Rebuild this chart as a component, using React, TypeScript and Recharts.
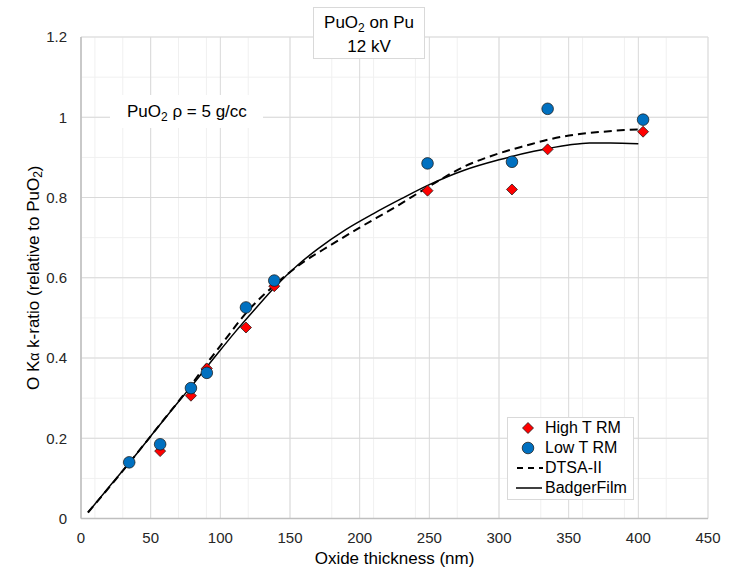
import {
  ComposedChart,
  Line,
  Scatter,
  XAxis,
  YAxis,
  CartesianGrid,
  Legend,
} from 'recharts';

const FONT = '"Liberation Sans", Arial, sans-serif';

// measured points (thickness nm, k-ratio)
const highTX = [56.8, 78.9, 90.3, 118.4, 138.7, 248.7, 309.3, 334.9, 403.4];
const highTY = [0.168, 0.306, 0.374, 0.476, 0.579, 0.817, 0.82, 0.92, 0.964];

const lowTX = [34.6, 56.8, 78.9, 90.3, 118.4, 138.7, 248.7, 309.3, 334.9, 403.4];
const lowTY = [0.14, 0.185, 0.325, 0.363, 0.526, 0.593, 0.885, 0.889, 1.021, 0.994];

// model curves
const dtsaX = [5, 35, 57, 80, 90, 100, 120, 140, 160, 180, 200, 225, 250, 275, 300, 320, 335, 355, 375, 390, 403];
const dtsaY = [0.015, 0.14, 0.236, 0.337, 0.385, 0.43, 0.518, 0.585, 0.64, 0.683, 0.725, 0.775, 0.828, 0.877, 0.91, 0.93, 0.944, 0.957, 0.964, 0.968, 0.97];

const badgerX = [5, 20, 35, 50, 65, 80, 95, 110, 125, 140, 155, 170, 190, 210, 230, 250, 275, 300, 325, 350, 365, 380, 400];
const badgerY = [0.015, 0.078, 0.14, 0.205, 0.27, 0.333, 0.398, 0.462, 0.522, 0.58, 0.63, 0.672, 0.72, 0.76, 0.797, 0.832, 0.868, 0.894, 0.915, 0.931, 0.936, 0.936, 0.934];

const xTicks = [0, 50, 100, 150, 200, 250, 300, 350, 400, 450];
const yTicks = [0, 0.2, 0.4, 0.6, 0.8, 1, 1.2];
const xMinorTicks = Array.from({ length: 46 }, (_, i) => i * 10);
const yMinorTicks = Array.from({ length: 25 }, (_, i) => Math.round(i * 5) / 100);

const SERIES = ['High T RM', 'Low T RM', 'DTSA-II', 'BadgerFilm'];

const zip = (xs: number[], ys: number[]) => xs.map((x, i) => ({ x, y: ys[i] }));

const highData = zip(highTX, highTY);
const lowData = zip(lowTX, lowTY);
const dtsaData = zip(dtsaX, dtsaY);
const badgerData = zip(badgerX, badgerY);

const RED = '#ff0000';
const BLUE = '#0070c0';
const MARKER_STROKE = '#1a1a1a';

function Diamond(props: any) {
  const { cx, cy } = props;
  if (cx == null || cy == null) return null;
  const r = 5.5;
  return (
    <polygon
      points={`${cx},${cy - r} ${cx + r},${cy} ${cx},${cy + r} ${cx - r},${cy}`}
      fill={RED}
      stroke={MARKER_STROKE}
      strokeWidth={0.75}
    />
  );
}

function Dot(props: any) {
  const { cx, cy } = props;
  if (cx == null || cy == null) return null;
  return <circle cx={cx} cy={cy} r={5.8} fill={BLUE} stroke={MARKER_STROKE} strokeWidth={0.75} />;
}

function YLabel(props: any) {
  const vb = props.viewBox || { x: 0, y: 37, width: 81, height: 481.5 };
  const cx = 33.5;
  const cy = vb.y + vb.height / 2;
  return (
    <text
      x={cx}
      y={cy}
      transform={`rotate(-90, ${cx}, ${cy})`}
      textAnchor="middle"
      dominantBaseline="central"
      fontSize={17}
      fontFamily={FONT}
      fill="#000"
    >
      O K<tspan fontSize={14}>α</tspan> k-ratio (relative to PuO
      <tspan dy={4} fontSize={12}>2</tspan>
      <tspan dy={-4}>)</tspan>
    </text>
  );
}

function XLabel(props: any) {
  const vb = props.viewBox || { x: 81, y: 518.5, width: 627, height: 51.5 };
  return (
    <text
      x={vb.x + vb.width / 2}
      y={558}
      textAnchor="middle"
      dominantBaseline="central"
      fontSize={17}
      fontFamily={FONT}
      fill="#000"
    >
      Oxide thickness (nm)
    </text>
  );
}

function LegendIcon({ idx }: { idx: number }) {
  return (
    <svg width={28} height={20} style={{ display: 'block' }}>
      {idx === 0 && <Diamond cx={12} cy={10} />}
      {idx === 1 && <Dot cx={12} cy={10} />}
      {idx === 2 && <line x1={1} x2={27} y1={10} y2={10} stroke="#000" strokeWidth={2} strokeDasharray="6 5" />}
      {idx === 3 && <line x1={0} x2={26} y1={10} y2={10} stroke="#000" strokeWidth={1.5} />}
    </svg>
  );
}

function LegendBox() {
  return (
    <div
      style={{
        boxSizing: 'border-box',
        width: 127,
        height: 83,
        border: '1px solid #d9d9d9',
        background: '#fff',
        padding: '0 0 0 8px',
        fontFamily: FONT,
        fontSize: 16,
        color: '#000',
      }}
    >
      {SERIES.map((name, i) => (
        <div key={name} style={{ display: 'flex', alignItems: 'center', height: 20 }}>
          <LegendIcon idx={i} />
          <span style={{ marginLeft: 1, lineHeight: '20px' }}>{name}</span>
        </div>
      ))}
    </div>
  );
}

export default function App() {
  const tick = { fill: '#262626', fontSize: 15, fontFamily: FONT };
  return (
    <div style={{ position: 'absolute', left: 0, top: 0, width: 733, height: 570, background: '#fff' }}>
      <ComposedChart width={733} height={570} margin={{ top: 37, right: 25, bottom: 0, left: 0 }}>
        <XAxis xAxisId="minor" type="number" dataKey="x" domain={[0, 450]} ticks={xMinorTicks} hide allowDataOverflow />
        <YAxis yAxisId="minor" type="number" dataKey="y" domain={[0, 1.2]} ticks={yMinorTicks} hide allowDataOverflow />
        <CartesianGrid xAxisId="minor" yAxisId="minor" stroke="#f0f0f0" strokeWidth={1} />
        <CartesianGrid stroke="#d9d9d9" strokeWidth={1} />
        <XAxis
          type="number"
          dataKey="x"
          domain={[0, 450]}
          ticks={xTicks}
          height={51.5}
          tick={tick}
          tickLine={false}
          tickMargin={8}
          axisLine={{ stroke: '#bfbfbf', strokeWidth: 1.5 }}
          label={(p: any) => <XLabel {...p} />}
        />
        <YAxis
          type="number"
          dataKey="y"
          domain={[0, 1.2]}
          ticks={yTicks}
          width={81}
          tick={tick}
          tickLine={false}
          tickMargin={8}
          axisLine={{ stroke: '#bfbfbf', strokeWidth: 1.5 }}
          label={(p: any) => <YLabel {...p} />}
        />
        <Line
          name={SERIES[2]}
          data={dtsaData}
          dataKey="y"
          type="monotone"
          stroke="#000"
          strokeWidth={2}
          strokeDasharray="8 5"
          dot={false}
          activeDot={false}
          isAnimationActive={false}
        />
        <Line
          name={SERIES[3]}
          data={badgerData}
          dataKey="y"
          type="monotone"
          stroke="#000"
          strokeWidth={1.5}
          dot={false}
          activeDot={false}
          isAnimationActive={false}
        />
        <Scatter name={SERIES[0]} data={highData} dataKey="y" shape={(p: any) => <Diamond {...p} />} isAnimationActive={false} />
        <Scatter name={SERIES[1]} data={lowData} dataKey="y" shape={(p: any) => <Dot {...p} />} isAnimationActive={false} />
        <Legend
          layout="vertical"
          align="center"
          verticalAlign="middle"
          content={() => <LegendBox />}
          wrapperStyle={{ left: 507, top: 417, width: 127, height: 83 }}
        />
      </ComposedChart>

      <div
        style={{
          position: 'absolute',
          left: 313,
          top: 7,
          width: 112,
          height: 52,
          boxSizing: 'border-box',
          border: '1px solid #d9d9d9',
          background: '#fff',
          paddingTop: 0,
          textAlign: 'center',
          fontFamily: FONT,
          fontSize: 17,
          lineHeight: '24px',
          color: '#000',
        }}
      >
        <div style={{ marginTop: 3 }}>
          PuO<sub style={{ fontSize: 12, lineHeight: 0 }}>2</sub> on Pu
        </div>
        <div>12 kV</div>
      </div>

      <div
        style={{
          position: 'absolute',
          left: 110,
          top: 95,
          width: 153,
          height: 33,
          background: '#fff',
          fontFamily: FONT,
          fontSize: 17,
          lineHeight: '33px',
          color: '#000',
          paddingLeft: 17,
          boxSizing: 'border-box',
        }}
      >
        PuO<sub style={{ fontSize: 12, lineHeight: 0 }}>2</sub> ρ = 5 g/cc
      </div>
    </div>
  );
}
